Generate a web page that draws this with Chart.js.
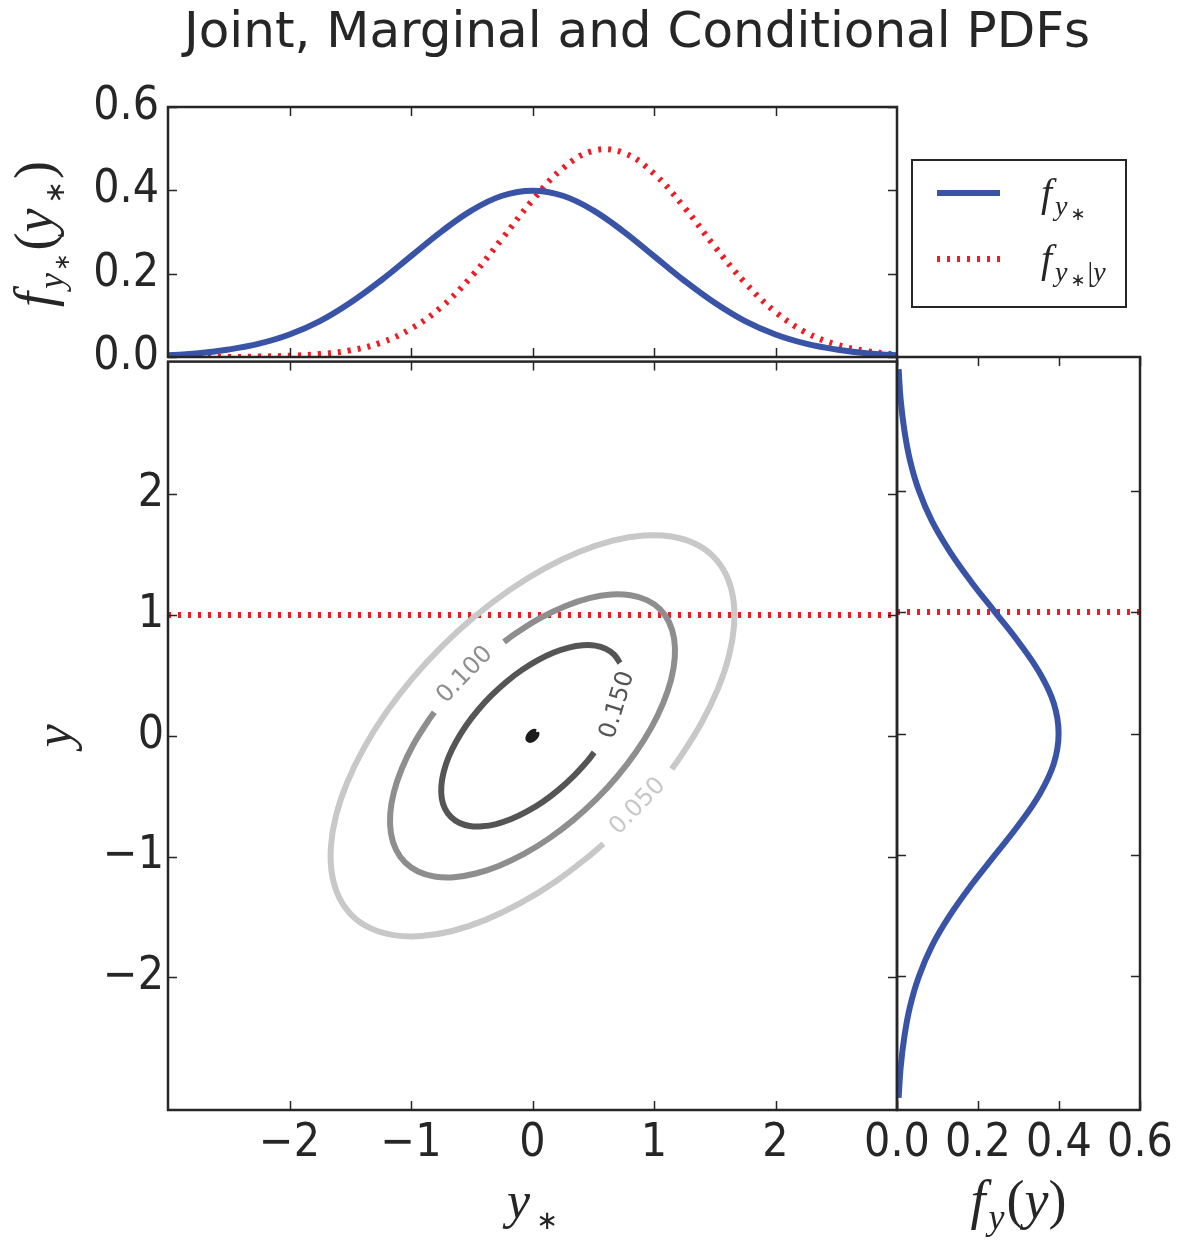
<!DOCTYPE html>
<html>
<head>
<meta charset="utf-8">
<title>Joint, Marginal and Conditional PDFs</title>
<script src="https://cdn.jsdelivr.net/npm/chart.js@4.4.1/dist/chart.umd.min.js"></script>
<style>
  html, body { margin: 0; padding: 0; background: #fff; }
  #wrap { position: relative; width: 1183px; height: 1240px; overflow: hidden; background: #fff; }
  #wrap canvas { position: absolute; }
</style>
</head>
<body>
<div id="wrap">
  <canvas id="mainChart" width="930" height="910" style="left:0px;top:330px"></canvas>
  <canvas id="rightChart" width="353" height="910" style="left:830px;top:330px"></canvas>
  <canvas id="topChart" width="1183" height="400" style="left:0px;top:0px"></canvas>
</div>
<script>
// values
const yStarGrid = [-3, -2.75, -2.5, -2.25, -2, -1.75, -1.5, -1.25, -1, -0.75, -0.5, -0.25, 0,
  0.25, 0.5, 0.75, 1, 1.25, 1.5, 1.75, 2, 2.25, 2.5, 2.75, 3];
const margDensity = [0.004, 0.009, 0.018, 0.032, 0.054, 0.086, 0.130, 0.183, 0.242, 0.301, 0.352, 0.387, 0.399,
  0.387, 0.352, 0.301, 0.242, 0.183, 0.130, 0.086, 0.054, 0.032, 0.018, 0.009, 0.004];
const condDensity = [0.000, 0.000, 0.000, 0.001, 0.003, 0.007, 0.016, 0.034, 0.068, 0.120, 0.194, 0.284, 0.376,
  0.453, 0.495, 0.490, 0.440, 0.359, 0.265, 0.178, 0.108, 0.059, 0.030, 0.014, 0.006];

// right panel: f_y(y) against y
const yGrid = yStarGrid;
const yDensity = margDensity;

// conditioning value y = 1
const condLineMainX = [-3, 3];
const condLineRightX = [0, 0.6];
const condLineY = [1, 1];

// contour paths (y*, y), broken where the labels sit
const c050X = [0.584, 0.474, 0.190, -0.100, -0.386, -0.661, -0.916, -1.143, -1.335, -1.487, -1.593, -1.651,
  -1.659, -1.617, -1.525, -1.387, -1.207, -0.990, -0.743, -0.474, -0.190, 0.100, 0.386, 0.661, 0.916, 1.143,
  1.335, 1.487, 1.593, 1.651, 1.659, 1.617, 1.525, 1.387, 1.207, 1.146];
const c050Y = [-0.895, -0.990, -1.207, -1.387, -1.525, -1.617, -1.659, -1.651, -1.593, -1.487, -1.335, -1.143,
  -0.916, -0.661, -0.386, -0.100, 0.190, 0.474, 0.743, 0.990, 1.207, 1.387, 1.525, 1.617, 1.659, 1.651,
  1.593, 1.487, 1.335, 1.143, 0.916, 0.661, 0.386, 0.100, -0.190, -0.276];

const c100X = [-0.235, -0.134, 0.070, 0.273, 0.467, 0.646, 0.807, 0.942, 1.049, 1.124, 1.165, 1.171, 1.141,
  1.076, 0.979, 0.852, 0.699, 0.525, 0.335, 0.134, -0.070, -0.273, -0.467, -0.646, -0.807, -0.942, -1.049,
  -1.124, -1.165, -1.171, -1.141, -1.076, -0.979, -0.852, -0.808];
const c100Y = [0.778, 0.852, 0.979, 1.076, 1.141, 1.171, 1.165, 1.124, 1.049, 0.942, 0.807, 0.646, 0.467,
  0.273, 0.070, -0.134, -0.335, -0.525, -0.699, -0.852, -0.979, -1.076, -1.141, -1.171, -1.165, -1.124, -1.049,
  -0.942, -0.807, -0.646, -0.467, -0.273, -0.070, 0.134, 0.195];

const c150X = [0.508, 0.448, 0.336, 0.214, 0.086, -0.045, -0.175, -0.299, -0.414, -0.517, -0.604, -0.672,
  -0.720, -0.747, -0.750, -0.731, -0.690, -0.627, -0.546, -0.448, -0.336, -0.214, -0.086, 0.045, 0.175, 0.299,
  0.414, 0.517, 0.604, 0.672, 0.720];
const c150Y = [-0.138, -0.214, -0.336, -0.448, -0.546, -0.627, -0.690, -0.731, -0.750, -0.747, -0.720, -0.672,
  -0.604, -0.517, -0.414, -0.299, -0.175, -0.045, 0.086, 0.214, 0.336, 0.448, 0.546, 0.627, 0.690, 0.731,
  0.750, 0.747, 0.720, 0.672, 0.604];

const peakX = [0.030, 0.032, 0.015, -0.011, -0.030, -0.032, -0.015, 0.011, 0.030];
const peakY = [0.030, 0.011, -0.015, -0.032, -0.030, -0.011, 0.015, 0.032, 0.030];

const levelText = ["0.050", "0.100", "0.150"];
const levelLabelX = [0.867, -0.555, 0.700];
const levelLabelY = [-0.585, 0.505, 0.255];
const levelLabelAngle = [-46, -46, -73];

// ticks
const mainTicks = [-2, -1, 0, 1, 2];
const mainTickText = ["\u22122", "\u22121", "0", "1", "2"];
const densTicks = [0, 0.2, 0.4, 0.6];
const densTickText = ["0.0", "0.2", "0.4", "0.6"];

const INK = "#262626";
const BLUE = "#3953a6";
const RED = "#ee1d25";
const levelColors = ["#c8c8c8", "#8e8e8e", "#555555", "#1c1c1c"];
const TICK_FONT = { family: '"DejaVu Sans Condensed", "DejaVu Sans"', size: 46 };

function pts(xs, ys) {
  return xs.map((x, i) => ({ x: x, y: ys[i] }));
}

function curve(xs, ys, color, width, dash) {
  return {
    data: pts(xs, ys),
    showLine: true,
    borderColor: color,
    backgroundColor: color,
    borderWidth: width,
    borderDash: dash || [],
    borderCapStyle: "butt",
    pointRadius: 0,
    fill: false,
    tension: 0.4,
  };
}

function axis(min, max, tickVals, tickText, fitSize, showLabels, pad) {
  return {
    type: "linear",
    min: min,
    max: max,
    grid: { display: false, drawTicks: false },
    border: { display: false },
    ticks: {
      display: showLabels,
      padding: pad,
      color: INK,
      font: TICK_FONT,
      autoSkip: false,
      maxRotation: 0,
      callback: (v) => {
        const i = tickVals.indexOf(v);
        return i >= 0 ? tickText[i] : "";
      },
    },
    afterBuildTicks: (s) => {
      s.ticks = tickVals.map((v) => ({ value: v }));
    },
    afterFit: (s) => {
      if (s.isHorizontal()) s.height = fitSize;
      else s.width = fitSize;
    },
  };
}

// frame with inward tick marks on all four sides
const frameTicks = {
  id: "frameTicks",
  afterDatasetsDraw(chart) {
    const { ctx, chartArea: a } = chart;
    const x = chart.scales.x, y = chart.scales.y;
    const len = 9;
    ctx.save();
    ctx.strokeStyle = INK;
    ctx.lineWidth = 1.5;
    ctx.beginPath();
    x.ticks.forEach((t) => {
      const px = Math.round(x.getPixelForValue(t.value)) + 0.5;
      ctx.moveTo(px, a.bottom); ctx.lineTo(px, a.bottom - len);
      ctx.moveTo(px, a.top); ctx.lineTo(px, a.top + len);
    });
    y.ticks.forEach((t) => {
      const py = Math.round(y.getPixelForValue(t.value)) + 0.5;
      ctx.moveTo(a.left, py); ctx.lineTo(a.left + len, py);
      ctx.moveTo(a.right, py); ctx.lineTo(a.right - len, py);
    });
    ctx.stroke();
    ctx.lineWidth = 2.5;
    ctx.strokeRect(a.left, a.top, a.right - a.left, a.bottom - a.top);
    ctx.restore();
  },
};

// small math-style text: parts are [text, size, dy, style, gapAfter]
function mathFont(p) {
  if (p[3] === "I") return "italic " + p[1] + 'px "Liberation Serif"';
  if (p[3] === "S") return p[1] + 'px "DejaVu Sans"';
  return p[1] + 'px "Liberation Serif"';
}
function drawMath(ctx, parts, x, y, rot, align) {
  ctx.save();
  ctx.translate(x, y);
  ctx.rotate(rot);
  ctx.fillStyle = INK;
  ctx.textBaseline = "alphabetic";
  ctx.textAlign = "left";
  let w = 0;
  parts.forEach((p) => {
    ctx.font = mathFont(p);
    w += ctx.measureText(p[0]).width + (p[4] || 0);
  });
  let cx = align === "left" ? 0 : -w / 2;
  parts.forEach((p) => {
    ctx.font = mathFont(p);
    ctx.fillText(p[0], cx, p[2]);
    cx += ctx.measureText(p[0]).width + (p[4] || 0);
  });
  ctx.restore();
}

const yStarLabel = [["y", 52, 0, "I", 6], ["\u2217", 26, 11, "S"]];
const yLabel = [["y", 52, 0, "I"]];
const fyLabel = [["f", 54, 0, "I", 3], ["y", 36, 11, "I", 2], ["(", 54, 0, "R"], ["y", 54, 0, "I"], [")", 54, 0, "R"]];
const fTopLabel = [["f", 54, 0, "I", 3], ["y", 36, 11, "I", 2], ["\u2217", 21, 17, "S", 3], ["(", 54, 0, "R"],
  ["y", 54, 0, "I", 5], ["\u2217", 27, 12, "S", 2], [")", 54, 0, "R"]];
const legendLabels = [
  [["f", 40, 0, "I", 3], ["y", 28, 9, "I", 3], ["\u2217", 18, 14, "S"]],
  [["f", 40, 0, "I", 3], ["y", 28, 9, "I", 3], ["\u2217", 18, 14, "S", 2], ["|", 28, 9, "R"], ["y", 28, 9, "I"]],
];

const topDecor = {
  id: "topDecor",
  afterDraw(chart) {
    const { ctx, chartArea: a } = chart;
    // title
    ctx.save();
    ctx.fillStyle = INK;
    ctx.font = '50px "DejaVu Sans"';
    ctx.textAlign = "center";
    ctx.textBaseline = "alphabetic";
    ctx.fillText("Joint, Marginal and Conditional PDFs", 637, 47);
    ctx.restore();
    // y label
    drawMath(ctx, fTopLabel, a.left - 116, (a.top + a.bottom) / 2 + 2, -Math.PI / 2, "center");
    // legend
    const lx = a.right + 15, ly = a.top + 53, lw = 214, lh = 147;
    ctx.save();
    ctx.fillStyle = "#fff";
    ctx.fillRect(lx, ly, lw, lh);
    ctx.strokeStyle = INK;
    ctx.lineWidth = 2;
    ctx.strokeRect(lx, ly, lw, lh);
    const rows = [ly + 33, ly + 99];
    chart.data.datasets.forEach((ds, i) => {
      ctx.beginPath();
      ctx.strokeStyle = ds.borderColor;
      ctx.lineWidth = ds.borderWidth;
      ctx.lineCap = "butt";
      ctx.setLineDash(ds.borderDash || []);
      ctx.moveTo(lx + 25, rows[i]);
      ctx.lineTo(lx + 88, rows[i]);
      ctx.stroke();
      ctx.setLineDash([]);
      drawMath(ctx, legendLabels[i], lx + 129, rows[i] + 13, 0, "left");
    });
    ctx.restore();
  },
};

const mainDecor = {
  id: "mainDecor",
  afterDatasetsDraw(chart) {
    const { ctx } = chart;
    const x = chart.scales.x, y = chart.scales.y;
    ctx.save();
    ctx.font = '24px "DejaVu Sans"';
    ctx.textAlign = "center";
    ctx.textBaseline = "middle";
    levelText.forEach((t, i) => {
      ctx.save();
      ctx.translate(x.getPixelForValue(levelLabelX[i]), y.getPixelForValue(levelLabelY[i]));
      ctx.rotate((levelLabelAngle[i] * Math.PI) / 180);
      ctx.fillStyle = levelColors[i];
      ctx.fillText(t, 0, 0);
      ctx.restore();
    });
    ctx.restore();
  },
  afterDraw(chart) {
    const { ctx, chartArea: a } = chart;
    drawMath(ctx, yStarLabel, (a.left + a.right) / 2, a.bottom + 108, 0, "center");
    drawMath(ctx, yLabel, a.left - 97, (a.top + a.bottom) / 2, -Math.PI / 2, "center");
  },
};

const rightDecor = {
  id: "rightDecor",
  afterDraw(chart) {
    const { ctx, chartArea: a } = chart;
    drawMath(ctx, fyLabel, (a.left + a.right) / 2, a.bottom + 108, 0, "center");
  },
};

function baseOptions(padding, scales) {
  return {
    responsive: false,
    animation: false,
    devicePixelRatio: 1,
    events: [],
    layout: { padding: padding },
    plugins: { legend: { display: false }, tooltip: { enabled: false }, title: { display: false } },
    scales: scales,
  };
}

// top: marginal and conditional densities of y*
new Chart(document.getElementById("topChart"), {
  type: "scatter",
  data: {
    datasets: [
      Object.assign(curve(yStarGrid, margDensity, BLUE, 6), { label: "f_{y*}" }),
      Object.assign(curve(yStarGrid, condDensity, RED, 6, [3, 7]), { label: "f_{y*|y}" }),
    ],
  },
  options: baseOptions({ top: 107, left: 0, right: 286, bottom: 0 }, {
    x: axis(-3, 3, mainTicks, mainTickText, 43, false, 0),
    y: axis(0, 0.6, densTicks, densTickText, 168, true, 9),
  }),
  plugins: [frameTicks, topDecor],
});

// main: joint density contours
new Chart(document.getElementById("mainChart"), {
  type: "scatter",
  data: {
    datasets: [
      curve(c050X, c050Y, levelColors[0], 6),
      curve(c100X, c100Y, levelColors[1], 6),
      curve(c150X, c150Y, levelColors[2], 6),
      curve(peakX, peakY, levelColors[3], 6),
      Object.assign(curve(condLineMainX, condLineY, RED, 6, [3, 7]), { tension: 0 }),
    ],
  },
  options: baseOptions({ top: 27, left: 0, right: 33, bottom: 0 }, {
    x: axis(-3, 3, mainTicks, mainTickText, 130, true, 6),
    y: axis(-3.1, 3.1, mainTicks, mainTickText, 168, true, 4),
  }),
  plugins: [frameTicks, mainDecor],
});

// right: marginal density of y
new Chart(document.getElementById("rightChart"), {
  type: "scatter",
  data: {
    datasets: [
      curve(yDensity, yGrid, BLUE, 6),
      Object.assign(curve(condLineRightX, condLineY, RED, 6, [3, 7]), { tension: 0 }),
    ],
  },
  options: baseOptions({ top: 27, left: 0, right: 43, bottom: 0 }, {
    x: axis(0, 0.6, densTicks, densTickText, 130, true, 6),
    y: axis(-3.1, 3.1, mainTicks, mainTickText, 67, false, 0),
  }),
  plugins: [frameTicks, rightDecor],
});
</script>
</body>
</html>
